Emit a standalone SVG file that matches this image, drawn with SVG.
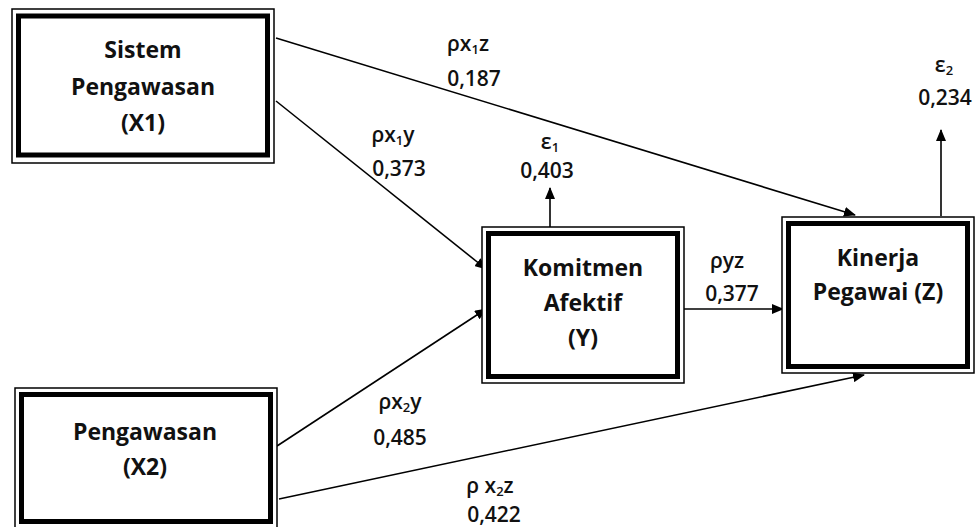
<svg xmlns="http://www.w3.org/2000/svg" width="975" height="527" viewBox="0 0 975 527">
<defs>
<marker id="ah" viewBox="0 0 12 10" refX="11" refY="5" markerWidth="12" markerHeight="10" markerUnits="userSpaceOnUse" orient="auto">
<path d="M0,0 L12,5 L0,10 Z" fill="#000"/>
</marker>
<style>
.outer{fill:#fff;stroke:#000;stroke-width:1.5}
.inner{fill:none;stroke:#000;stroke-width:5}
.nt{font-family:"Open Sans","Liberation Sans",sans-serif;font-weight:700;font-size:23px;fill:#111;text-anchor:middle}
.lb{font-family:"Open Sans","Liberation Sans",sans-serif;font-weight:600;font-size:21px;fill:#111;text-anchor:middle}
.sub{font-size:13px}
.cn{stroke:#000;stroke-width:1.6;fill:none;marker-end:url(#ah)}
</style>
</defs>
<rect width="975" height="527" fill="#fff"/>
<g id="connectors">
<line class="cn" x1="276" y1="38" x2="855" y2="215"/>
<line class="cn" x1="276" y1="101" x2="486" y2="269"/>
<line class="cn" x1="277" y1="446" x2="486" y2="309"/>
<line class="cn" x1="279" y1="499" x2="864" y2="375"/>
<line class="cn" x1="684" y1="309" x2="783" y2="309"/>
<line class="cn" x1="550" y1="227" x2="550" y2="188"/>
<line class="cn" x1="941" y1="216" x2="941" y2="130"/>
</g>
<g id="labels">
<text class="lb" x="468" y="51">ρx<tspan class="sub" dy="3">1</tspan><tspan dy="-3">z</tspan></text>
<text class="lb" x="474" y="86">0,187</text>
<text class="lb" x="393" y="142">ρx<tspan class="sub" dy="3">1</tspan><tspan dy="-3">y</tspan></text>
<text class="lb" x="399" y="176">0,373</text>
<text class="lb" x="550" y="149">ε<tspan class="sub" dy="3">1</tspan></text>
<text class="lb" x="547" y="178">0,403</text>
<text class="lb" x="944" y="72">ε<tspan class="sub" dy="3">2</tspan></text>
<text class="lb" x="945" y="105">0,234</text>
<text class="lb" x="727" y="268">ρyz</text>
<text class="lb" x="732" y="301">0,377</text>
<text class="lb" x="400" y="409">ρx<tspan class="sub" dy="3">2</tspan><tspan dy="-3">y</tspan></text>
<text class="lb" x="400" y="445">0,485</text>
<text class="lb" x="490" y="493">ρ x<tspan class="sub" dy="3">2</tspan><tspan dy="-3">z</tspan></text>
<text class="lb" x="494" y="522">0,422</text>
</g>
<g id="node-x1">
<rect class="outer" x="12" y="9" width="262" height="154"/>
<rect class="inner" x="18.5" y="16" width="249" height="139"/>
<text class="nt" x="143" y="58">Sistem</text>
<text class="nt" x="143" y="95">Pengawasan</text>
<text class="nt" x="143" y="131">(X1)</text>
</g>
<g id="node-y">
<rect class="outer" x="482" y="227" width="202" height="156"/>
<rect class="inner" x="488.5" y="233.5" width="189" height="143"/>
<text class="nt" x="583" y="276">Komitmen</text>
<text class="nt" x="583" y="311">Afektif</text>
<text class="nt" x="583" y="346">(Y)</text>
</g>
<g id="node-z">
<rect class="outer" x="782" y="217" width="192" height="156"/>
<rect class="inner" x="788.5" y="223.5" width="179" height="143"/>
<text class="nt" x="878" y="266">Kinerja</text>
<text class="nt" x="878" y="300">Pegawai (Z)</text>
</g>
<g id="node-x2">
<rect class="outer" x="15" y="388" width="262" height="146"/>
<rect class="inner" x="21.5" y="394.5" width="249" height="127"/>
<text class="nt" x="145" y="440">Pengawasan</text>
<text class="nt" x="145" y="475">(X2)</text>
</g>
</svg>
